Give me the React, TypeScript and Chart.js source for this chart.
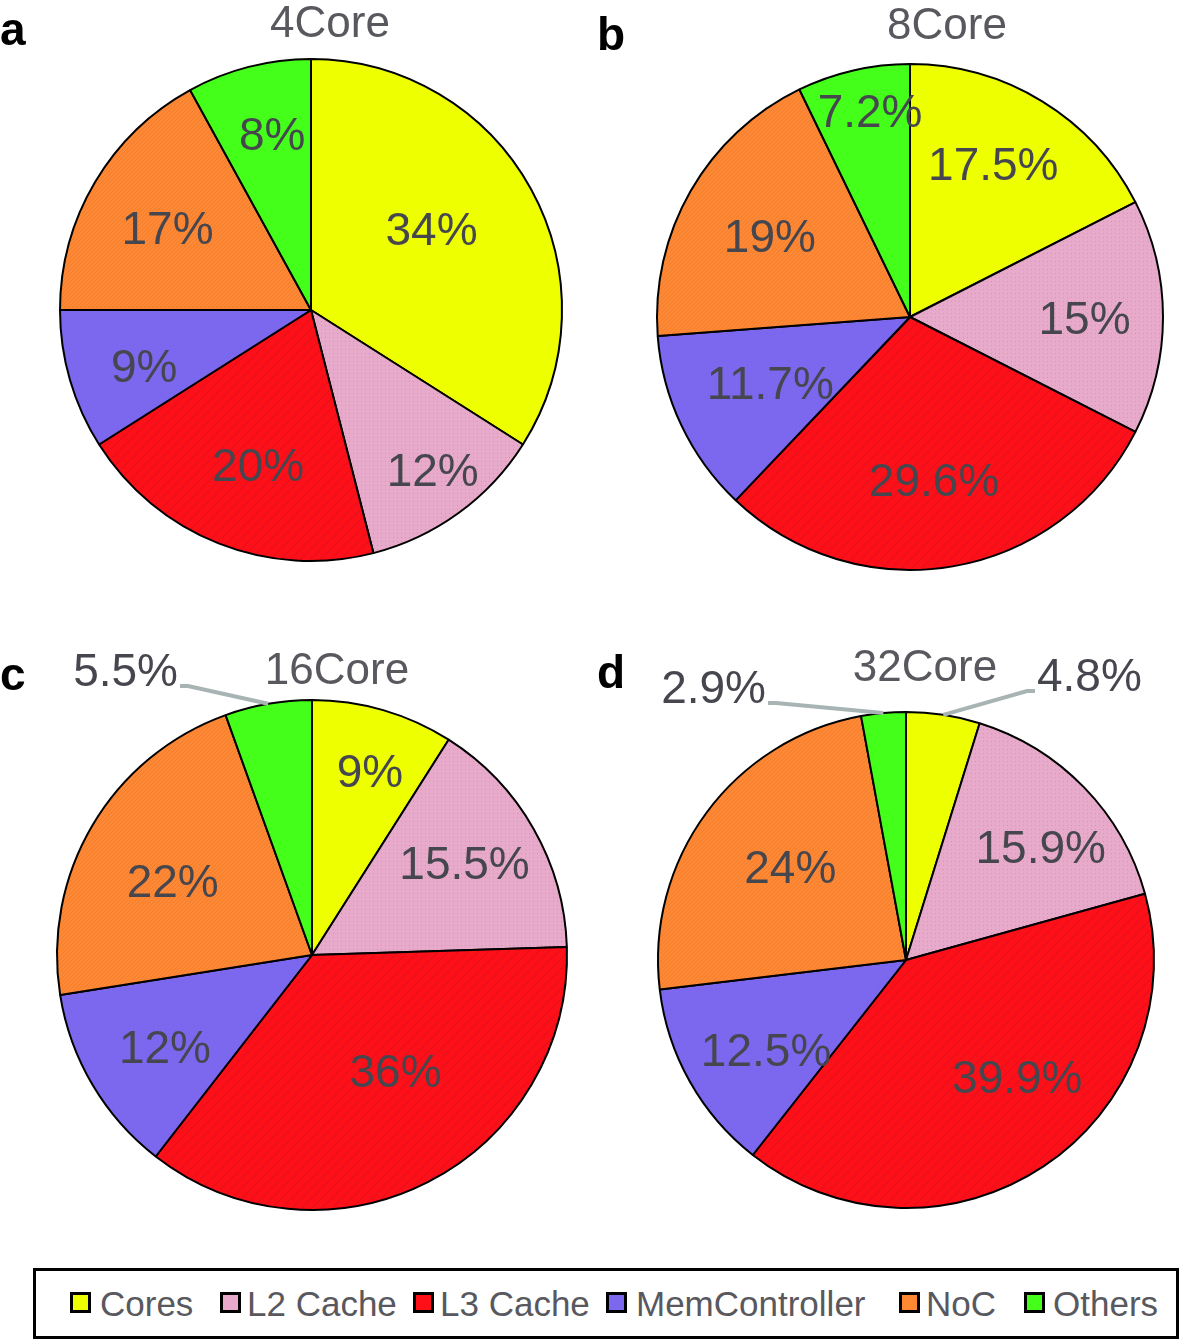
import React, { useEffect, useRef } from "react";
import { Chart, registerables } from "chart.js";

Chart.register(...registerables);

// ---------- data ----------
const components = ["Cores", "L2 Cache", "L3 Cache", "MemController", "NoC", "Others"];
const panelTitles = ["4Core", "8Core", "16Core", "32Core"];
const panelLetters = ["a", "b", "c", "d"];
const core4 = [34, 12, 20, 9, 17, 8];
const core8 = [17.5, 15, 29.6, 11.7, 19, 7.2];
const core16 = [9, 15.5, 36, 12, 22, 5.5];
const core32 = [4.8, 15.9, 39.9, 12.5, 24, 2.9];

// ---------- styles / layout ----------
const baseColors = ["#EEFF00", "#E8AACB", "#FF1018", "#7B68EE", "#FF8833", "#44FF1A"];
const textures = ["none", "dots", "hatch", "dots", "lines", "none"];
const FONT = "'Liberation Sans', Arial, Helvetica, sans-serif";

type Outside = { dx: number; dy: number; side: number };
type Panel = {
  values: number[];
  title: string;
  letter: string;
  left: number;
  top: number;
  w: number;
  h: number;
  cx: number;
  cy: number;
  r: number;
  titlePos: [number, number];
  letterPos: [number, number];
  labelFrac: (number | null)[];
  labelShift: number[]; // degrees, relative to slice mid-angle
  outside: (Outside | null)[];
};

const panels: Panel[] = [
  {
    values: core4, title: panelTitles[0], letter: panelLetters[0],
    left: 0, top: 0, w: 590, h: 640, cx: 311, cy: 310, r: 251,
    titlePos: [330, 21], letterPos: [0, 45],
    labelFrac: [0.58, 0.8, 0.65, 0.7, 0.66, 0.72],
    labelShift: [-5.3, -1.3, -2.7, -2.1, -0.6, 2.0],
    outside: [null, null, null, null, null, null],
  },
  {
    values: core8, title: panelTitles[1], letter: panelLetters[1],
    left: 590, top: 0, w: 590, h: 640, cx: 320, cy: 317, r: 253,
    titlePos: [357, 23], letterPos: [7, 50],
    labelFrac: [0.69, 0.69, 0.65, 0.61, 0.64, 0.83],
    labelShift: [-3, 0.3, 1.3, 0.2, 0.2, 2],
    outside: [null, null, null, null, null, null],
  },
  {
    values: core16, title: panelTitles[2], letter: panelLetters[2],
    left: 0, top: 640, w: 590, h: 620, cx: 312, cy: 315, r: 255,
    titlePos: [337, 28], letterPos: [0, 50],
    labelFrac: [0.76, 0.7, 0.56, 0.68, 0.62, null],
    labelShift: [1.2, -1.6, -8.8, -1.4, -2.4, 0],
    outside: [null, null, null, null, null, { dx: -124, dy: -269, side: -1 }],
  },
  {
    values: core32, title: panelTitles[3], letter: panelLetters[3],
    left: 590, top: 640, w: 590, h: 620, cx: 316, cy: 320, r: 248,
    titlePos: [335, 25], letterPos: [7, 48],
    labelFrac: [null, 0.71, 0.65, 0.67, 0.6, null],
    labelShift: [0, 4, -10, -3.3, 2.6, 0],
    outside: [{ dx: 121, dy: -269, side: 1 }, null, null, null, null, { dx: -130, dy: -257, side: -1 }],
  },
];

const legendSwatchX = [70, 220, 413, 606, 899, 1024];
const legendTextX = [100, 247, 440, 636, 926, 1053];

function makeFill(color: string, kind: string): string | CanvasPattern {
  if (kind === "none") return color;
  const c = document.createElement("canvas");
  const s = kind === "hatch" ? 10 : 4;
  c.width = s;
  c.height = s;
  const g = c.getContext("2d")!;
  g.fillStyle = color;
  g.fillRect(0, 0, s, s);
  if (kind === "dots") {
    g.fillStyle = "rgba(110,110,130,0.28)";
    g.fillRect(1, 1, 1, 1);
  } else if (kind === "hatch") {
    g.strokeStyle = "rgba(150,20,50,0.22)";
    g.lineWidth = 1.5;
    g.beginPath();
    g.moveTo(0, s);
    g.lineTo(s, 0);
    g.stroke();
  } else if (kind === "lines") {
    g.strokeStyle = "rgba(200,90,60,0.25)";
    g.lineWidth = 1;
    g.beginPath();
    g.moveTo(0, s);
    g.lineTo(s, 0);
    g.stroke();
  }
  const p = g.createPattern(c, "repeat");
  return p || color;
}

function panelPlugin(p: Panel) {
  return {
    id: "panelText" + p.letter,
    afterDraw(chart: any) {
      const ctx: CanvasRenderingContext2D = chart.ctx;
      const meta = chart.getDatasetMeta(0);
      ctx.save();
      // panel letter
      ctx.fillStyle = "#000";
      ctx.font = `bold 46px ${FONT}`;
      ctx.textAlign = "left";
      ctx.textBaseline = "alphabetic";
      ctx.fillText(p.letter, p.letterPos[0], p.letterPos[1]);
      // title
      ctx.fillStyle = "#58585e";
      ctx.font = `44px ${FONT}`;
      ctx.textAlign = "center";
      ctx.fillText(p.title, p.titlePos[0], p.titlePos[1] + 0.358 * 44);
      // slice labels
      ctx.font = `46px ${FONT}`;
      ctx.fillStyle = "#46464e";
      meta.data.forEach((arc: any, i: number) => {
        const pr = arc.getProps(["x", "y", "startAngle", "endAngle", "outerRadius"], true);
        const mid = (pr.startAngle + pr.endAngle) / 2;
        const text = `${p.values[i]}%`;
        const frac = p.labelFrac[i];
        if (frac != null) {
          const a = mid + (p.labelShift[i] * Math.PI) / 180;
          const lx = pr.x + Math.cos(a) * pr.outerRadius * frac;
          const ly = pr.y + Math.sin(a) * pr.outerRadius * frac;
          ctx.textAlign = "center";
          ctx.fillText(text, lx, ly + 0.358 * 46);
        }
        const o = p.outside[i];
        if (o) {
          const ex = pr.x + Math.cos(mid) * pr.outerRadius;
          const ey = pr.y + Math.sin(mid) * pr.outerRadius;
          const bx = pr.x + o.dx;
          const by = pr.y + o.dy;
          ctx.strokeStyle = "#a8b4b4";
          ctx.lineWidth = 4;
          ctx.lineJoin = "miter";
          ctx.beginPath();
          ctx.moveTo(ex, ey);
          ctx.lineTo(bx, by);
          ctx.lineTo(bx + o.side * 8, by);
          ctx.stroke();
          ctx.textAlign = o.side < 0 ? "right" : "left";
          ctx.fillText(text, bx + o.side * 10, by);
        }
      });
      ctx.restore();
    },
  };
}

function PiePanel({ p }: { p: Panel }) {
  const ref = useRef<HTMLCanvasElement | null>(null);
  useEffect(() => {
    if (!ref.current) return;
    const padL = Math.max(0, 2 * p.cx - p.w);
    const padR = Math.max(0, p.w - 2 * p.cx);
    const padT = Math.max(0, 2 * p.cy - p.h);
    const padB = Math.max(0, p.h - 2 * p.cy);
    const fills = baseColors.map((c, i) => makeFill(c, textures[i]));
    const chart = new Chart(ref.current, {
      type: "pie",
      data: {
        labels: components,
        datasets: [
          {
            data: p.values,
            backgroundColor: fills as any,
            borderColor: "#000",
            borderWidth: 2,
            hoverOffset: 0,
            radius: p.r,
          } as any,
        ],
      },
      options: {
        responsive: false,
        animation: false,
        events: [],
        layout: { padding: { left: padL, right: padR, top: padT, bottom: padB } },
        plugins: {
          legend: { display: false },
          tooltip: { enabled: false },
          title: { display: false },
        },
      } as any,
      plugins: [panelPlugin(p)],
    });
    return () => chart.destroy();
  }, [p]);
  return (
    <canvas
      ref={ref}
      width={p.w}
      height={p.h}
      style={{ position: "absolute", left: p.left, top: p.top, width: p.w, height: p.h }}
    />
  );
}

export default function App() {
  return (
    <div
      style={{
        position: "absolute",
        left: 0,
        top: 0,
        width: 1180,
        height: 1340,
        background: "#fff",
        overflow: "hidden",
        fontFamily: FONT,
      }}
    >
      {panels.map((p) => (
        <PiePanel key={p.letter} p={p} />
      ))}
      <div
        style={{
          position: "absolute",
          left: 33,
          top: 1268,
          width: 1146,
          height: 71,
          boxSizing: "border-box",
          border: "3px solid #000",
        }}
      />
      {components.map((name, i) => (
        <React.Fragment key={name}>
          <div
            style={{
              position: "absolute",
              left: legendSwatchX[i],
              top: 1292,
              width: 21,
              height: 21,
              boxSizing: "border-box",
              border: "3px solid #000",
              background: baseColors[i],
            }}
          />
          <div
            style={{
              position: "absolute",
              left: legendTextX[i],
              top: 1286,
              fontSize: 35,
              lineHeight: "35px",
              color: "#58585e",
              whiteSpace: "nowrap",
            }}
          >
            {name}
          </div>
        </React.Fragment>
      ))}
    </div>
  );
}
